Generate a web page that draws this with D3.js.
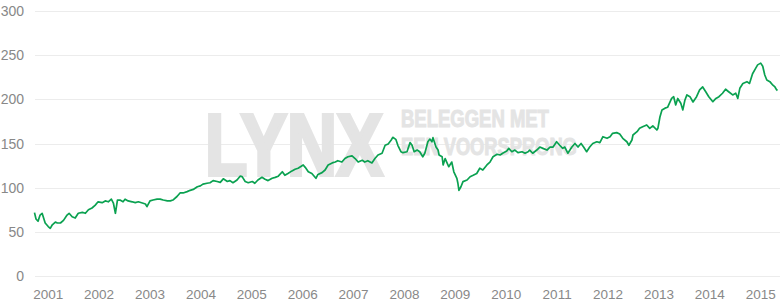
<!DOCTYPE html>
<html>
<head>
<meta charset="utf-8">
<script src="https://cdn.jsdelivr.net/npm/d3@7"></script>
<style>
  body { margin: 0; background: #fff; }
  svg { display: block; }
  text { font-family: "Liberation Sans", Arial, sans-serif; }
</style>
</head>
<body>
<svg id="chart" width="780" height="303"></svg>
<script>
// decimal years
const years = [
  2000.73, 2000.76, 2000.80, 2000.84, 2000.88, 2000.94, 2001.00, 2001.04, 2001.08, 2001.14,
  2001.18, 2001.24, 2001.30, 2001.37, 2001.41, 2001.47, 2001.53, 2001.59, 2001.67, 2001.73,
  2001.79, 2001.86, 2001.92, 2001.98, 2002.06, 2002.12, 2002.18, 2002.24, 2002.28, 2002.32,
  2002.36, 2002.41, 2002.47, 2002.51, 2002.57, 2002.65, 2002.71, 2002.77, 2002.85, 2002.91,
  2002.94, 2003.00, 2003.06, 2003.14, 2003.20, 2003.26, 2003.34, 2003.40, 2003.45, 2003.53,
  2003.59, 2003.65, 2003.73, 2003.79, 2003.85, 2003.93, 2003.99, 2004.04, 2004.12, 2004.18,
  2004.24, 2004.32, 2004.38, 2004.44, 2004.52, 2004.57, 2004.63, 2004.71, 2004.77, 2004.81,
  2004.87, 2004.93, 2005.01, 2005.06, 2005.12, 2005.20, 2005.26, 2005.32, 2005.40, 2005.46,
  2005.52, 2005.60, 2005.65, 2005.71, 2005.79, 2005.85, 2005.91, 2006.01, 2006.05, 2006.11,
  2006.18, 2006.26, 2006.30, 2006.38, 2006.44, 2006.50, 2006.58, 2006.64, 2006.69, 2006.77,
  2006.83, 2006.89, 2006.97, 2007.03, 2007.09, 2007.17, 2007.22, 2007.28, 2007.36, 2007.42,
  2007.48, 2007.56, 2007.62, 2007.68, 2007.74, 2007.77, 2007.83, 2007.87, 2007.93, 2007.97,
  2008.05, 2008.11, 2008.15, 2008.19, 2008.25, 2008.30, 2008.36, 2008.40, 2008.46, 2008.50,
  2008.54, 2008.56, 2008.62, 2008.66, 2008.68, 2008.74, 2008.76, 2008.80, 2008.83, 2008.87,
  2008.93, 2008.97, 2009.03, 2009.05, 2009.07, 2009.11, 2009.15, 2009.23, 2009.29, 2009.35,
  2009.42, 2009.48, 2009.54, 2009.62, 2009.68, 2009.74, 2009.82, 2009.88, 2009.93, 2010.01,
  2010.05, 2010.11, 2010.17, 2010.23, 2010.31, 2010.37, 2010.43, 2010.46, 2010.52, 2010.60,
  2010.66, 2010.72, 2010.80, 2010.86, 2010.92, 2010.99, 2011.05, 2011.11, 2011.15, 2011.21,
  2011.29, 2011.35, 2011.41, 2011.47, 2011.52, 2011.58, 2011.64, 2011.70, 2011.78, 2011.84,
  2011.90, 2011.98, 2012.04, 2012.09, 2012.17, 2012.23, 2012.29, 2012.37, 2012.41, 2012.47,
  2012.49, 2012.57, 2012.62, 2012.68, 2012.76, 2012.82, 2012.88, 2012.96, 2012.98, 2013.02,
  2013.06, 2013.12, 2013.17, 2013.25, 2013.29, 2013.33, 2013.37, 2013.43, 2013.47, 2013.51,
  2013.55, 2013.61, 2013.67, 2013.74, 2013.80, 2013.86, 2013.92, 2013.98, 2014.06, 2014.12,
  2014.18, 2014.25, 2014.31, 2014.37, 2014.45, 2014.51, 2014.55, 2014.59, 2014.65, 2014.73,
  2014.78, 2014.84, 2014.90, 2014.94, 2015.00, 2015.04, 2015.08, 2015.12, 2015.18, 2015.24,
  2015.28, 2015.31, 2015.33
];
const values = [
  71.7, 64.5, 62, 69, 71, 60, 56, 54, 58, 61,
  60, 60, 63, 69, 71, 67, 65.6, 71, 72, 71,
  75, 77, 80, 84, 83, 85, 84, 87, 82.6, 71,
  86, 86, 84, 87, 85, 84, 83, 84, 82.6, 81.5,
  78.5, 85, 86, 87, 87, 86, 85, 85, 86, 90,
  94, 94, 95.5, 97, 98, 101, 102, 104, 105, 105.6,
  108, 107, 106, 110, 107, 108, 105.6, 108.7, 113, 112.5,
  107, 105.6, 107, 105, 108.7, 111.7, 109.5, 108, 110.6, 111.7,
  113, 118, 114, 116, 119, 120.8, 122, 125.7, 123, 118,
  116, 110.6, 115, 117, 120, 125.7, 128, 129, 130.5, 129,
  133, 135, 136, 133, 129, 131, 129, 130.5, 128, 133,
  137, 139, 148, 149.5, 154, 157, 154.7, 148, 140.7, 139.6,
  140.7, 151, 148, 140.7, 142.6, 140.7, 135, 139, 152, 155,
  152, 156.6, 146, 142.6, 137, 135, 125.7, 133, 129, 123.7,
  129, 118, 110.6, 105, 97, 101, 106.8, 108.7, 112.4, 114,
  116, 122, 120, 125.7, 129, 135, 137.8, 137, 139, 141.5,
  144.5, 140.7, 142.6, 139.6, 140.7, 139, 140.7, 142.6, 139, 142.6,
  146, 144.5, 142.6, 146, 146, 152, 148, 144.5, 146, 139,
  146, 150, 146, 150, 146, 140.7, 146, 150, 152, 151,
  157.7, 155.9, 157.7, 161.5, 162.3, 160.7, 155.9, 152, 148, 154,
  159.6, 163.4, 167.2, 169, 171, 167.2, 170, 165.3, 167.2, 180,
  188, 190, 191, 201, 203, 193.6, 201, 195.5, 188, 199,
  205, 203, 197, 203, 210.6, 214, 208.6, 203, 197.3, 201,
  203, 206.9, 211.4, 208.6, 205, 206.9, 201, 212.5, 218, 220,
  218, 229, 235, 239, 241, 237.5, 227.5, 221.9, 220, 216,
  214, 211, 210
];
const yTicks = [0, 50, 100, 150, 200, 250, 300];
const xTicks = [2001, 2002, 2003, 2004, 2005, 2006, 2007, 2008, 2009, 2010, 2011, 2012, 2013, 2014, 2015];

const data = years.map((t, i) => ({t: t, v: values[i]}));

const svg = d3.select("#chart");
const plotLeft = 35, plotRight = 778, plotTop = 11, plotBottom = 276;

const x = d3.scaleLinear().domain([2000.74, 2015.34]).range([plotLeft, plotRight]);
const y = d3.scaleLinear().domain([0, 300]).range([plotBottom, plotTop]);

// gridlines
svg.append("g")
  .selectAll("line")
  .data(yTicks)
  .join("line")
  .attr("x1", plotLeft).attr("x2", 780)
  .attr("y1", d => Math.round(y(d)) + 0.5).attr("y2", d => Math.round(y(d)) + 0.5)
  .attr("stroke", "#ececec").attr("stroke-width", 1);

// watermark: condensed by squeezing each text horizontally to a target width
function squeezed(g, str, px, py, size, width, sw) {
  const t = g.append("text").attr("x", 0).attr("y", 0)
    .attr("font-size", size).attr("stroke-width", sw).text(str);
  const k = width / t.node().getComputedTextLength();
  t.attr("transform", "translate(" + px + "," + py + ") scale(" + k + ",1)");
  return t;
}
const wm = svg.append("g").attr("fill", "#e4e4e4").attr("stroke", "#e4e4e4")
  .attr("font-weight", "bold").attr("stroke-linejoin", "miter");
squeezed(wm, "LYNX", 205, 175, 88, 178, 4);
squeezed(wm, "BELEGGEN MET", 401, 126.5, 23, 148, 1);
squeezed(wm, "EEN VOORSPRONG", 401, 154.5, 23, 176, 1);

// y labels
svg.append("g")
  .selectAll("text")
  .data(yTicks)
  .join("text")
  .attr("x", 24).attr("y", d => y(d)).attr("dy", "0.36em")
  .attr("text-anchor", "end")
  .attr("font-size", 14).attr("fill", "#888")
  .text(d => d);

// x labels
svg.append("g")
  .selectAll("text")
  .data(xTicks)
  .join("text")
  .attr("x", d => x(d)).attr("y", 299)
  .attr("text-anchor", "middle")
  .attr("font-size", 13.5).attr("fill", "#888")
  .text(d => d);

// line
const line = d3.line().x(d => x(d.t)).y(d => y(d.v));
svg.append("path")
  .datum(data)
  .attr("fill", "none")
  .attr("stroke", "#0aa150")
  .attr("stroke-width", 1.7)
  .attr("stroke-linejoin", "round")
  .attr("d", line);
</script>
</body>
</html>
